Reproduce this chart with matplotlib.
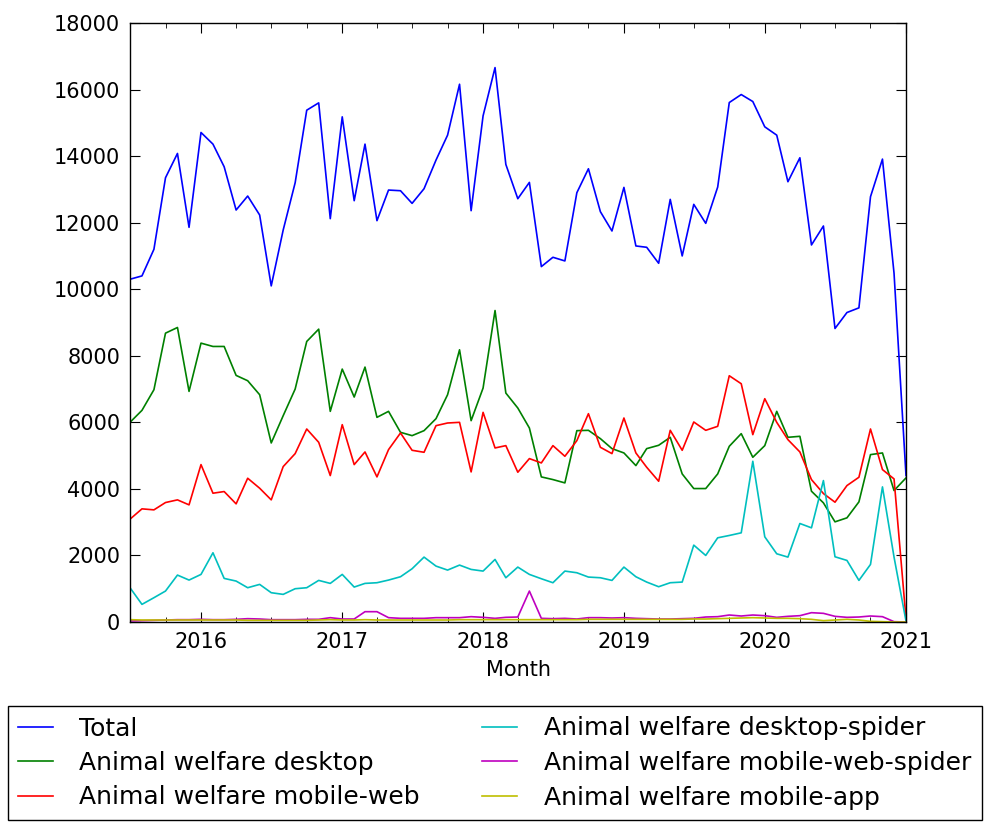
import pandas as pd
import matplotlib
matplotlib.use('Agg')
import matplotlib.pyplot as plt
import matplotlib.dates as mdates

# === monthly pageviews, 2015-07 .. 2021-01 ===
months = pd.date_range('2015-07-01', periods=67, freq='MS')

total = [10300, 10400, 11200, 13350, 14080, 11860, 14710, 14360, 13680, 12380,
         12800, 12230, 10100, 11780, 13200, 15380, 15600, 12120, 15180, 12660,
         14360, 12060, 12980, 12960, 12580, 13020, 13880, 14630, 16160, 12360,
         15210, 16660, 13750, 12720, 13210, 10680, 10960, 10850, 12900, 13620,
         12330, 11750, 13060, 11300, 11260, 10780, 12700, 11000, 12550, 11980,
         13070, 15610, 15850, 15640, 14880, 14630, 13230, 13950, 11330, 11900,
         8820, 9300, 9440, 12780, 13910, 10480, 4400]

desktop = [6000, 6360, 6980, 8680, 8850, 6930, 8380, 8280, 8280, 7410,
           7250, 6830, 5380, 6200, 7000, 8430, 8800, 6330, 7600, 6760,
           7660, 6150, 6330, 5700, 5600, 5750, 6110, 6830, 8180, 6050,
           7030, 9360, 6880, 6430, 5830, 4360, 4280, 4180, 5750, 5760,
           5510, 5210, 5080, 4700, 5210, 5310, 5550, 4450, 4010, 4010,
           4450, 5280, 5660, 4950, 5300, 6330, 5550, 5580, 3930, 3580,
           3010, 3130, 3610, 5030, 5080, 3950, 4330]

mobile_web = [3090, 3400, 3370, 3590, 3670, 3520, 4730, 3870, 3920, 3550,
              4320, 4020, 3670, 4670, 5060, 5800, 5400, 4400, 5930, 4730,
              5110, 4360, 5180, 5680, 5160, 5100, 5900, 5980, 6000, 4510,
              6300, 5230, 5300, 4500, 4910, 4780, 5300, 4980, 5450, 6260,
              5250, 5060, 6130, 5080, 4650, 4230, 5760, 5160, 6010, 5760,
              5880, 7400, 7160, 5630, 6710, 6000, 5480, 5110, 4280, 3860,
              3600, 4100, 4350, 5800, 4580, 4300, 100]

desktop_spider = [1030, 530, 730, 930, 1410, 1260, 1430, 2080, 1310, 1230,
                  1030, 1130, 880, 830, 1000, 1030, 1250, 1160, 1430, 1050,
                  1160, 1180, 1260, 1360, 1600, 1950, 1680, 1560, 1710, 1580,
                  1530, 1880, 1330, 1650, 1430, 1300, 1180, 1530, 1480, 1350,
                  1330, 1250, 1650, 1360, 1200, 1060, 1180, 1200, 2310, 2000,
                  2530, 2600, 2680, 4830, 2560, 2050, 1950, 2960, 2830, 4250,
                  1960, 1850, 1250, 1730, 4060, 1950, 30]

mobile_web_spider = [30, 40, 50, 60, 70, 70, 80, 70, 70, 80,
                     100, 90, 70, 70, 70, 80, 80, 130, 90, 90,
                     310, 310, 130, 110, 110, 110, 130, 130, 130, 160,
                     140, 110, 140, 150, 930, 110, 100, 110, 90, 130,
                     130, 120, 130, 110, 100, 90, 90, 100, 110, 150,
                     160, 210, 180, 210, 190, 140, 170, 190, 280, 260,
                     170, 140, 150, 180, 160, 10, 0]

mobile_app = [70, 60, 60, 60, 60, 60, 60, 60, 60, 60,
              50, 50, 50, 50, 50, 50, 60, 70, 60, 60,
              70, 60, 60, 60, 60, 60, 60, 60, 70, 70,
              70, 70, 70, 70, 70, 70, 70, 70, 70, 80,
              80, 80, 80, 80, 80, 80, 80, 80, 90, 90,
              100, 110, 120, 130, 120, 110, 110, 100, 80, 40,
              60, 80, 60, 20, 10, 0, 0]

series = [
    ('Total', total, 'b'),
    ('Animal welfare desktop', desktop, 'g'),
    ('Animal welfare mobile-web', mobile_web, 'r'),
    ('Animal welfare desktop-spider', desktop_spider, 'c'),
    ('Animal welfare mobile-web-spider', mobile_web_spider, 'm'),
    ('Animal welfare mobile-app', mobile_app, 'y'),
]

# === Plot ===
fig = plt.figure(figsize=(9.92, 8.26), dpi=100)
ax = fig.add_axes([130/992, 1 - 622/826, 776/992, 599/826])

for label, vals, col in series:
    ax.plot(months, vals, color=col, linewidth=1.2, label=label)

ax.set_xlim(months[0], months[-1])
ax.set_ylim(0, 18000)
ax.set_yticks(range(0, 18001, 2000))
ax.xaxis.set_major_locator(mdates.YearLocator())
ax.xaxis.set_minor_locator(mdates.MonthLocator(bymonth=[1, 4, 7, 10]))
ax.xaxis.set_major_formatter(mdates.DateFormatter('%Y'))
ax.tick_params(which='both', direction='in', top=True, right=True, labelsize=15, pad=7)
ax.tick_params(which='major', length=7)
ax.tick_params(which='minor', length=3.5)
for s in ax.spines.values():
    s.set_linewidth(1.0)
ax.set_xlabel('Month', fontsize=15, labelpad=6)

fig.legend(loc='upper center', bbox_to_anchor=(494.5/992, 1 - 706/826),
           ncol=2, fontsize=18, handlelength=1.4, handletextpad=1.05,
           columnspacing=2.5, labelspacing=0.42, borderpad=0.42,
           borderaxespad=0, fancybox=False, edgecolor='black', framealpha=1)

fig.savefig('out.png', dpi=100)
